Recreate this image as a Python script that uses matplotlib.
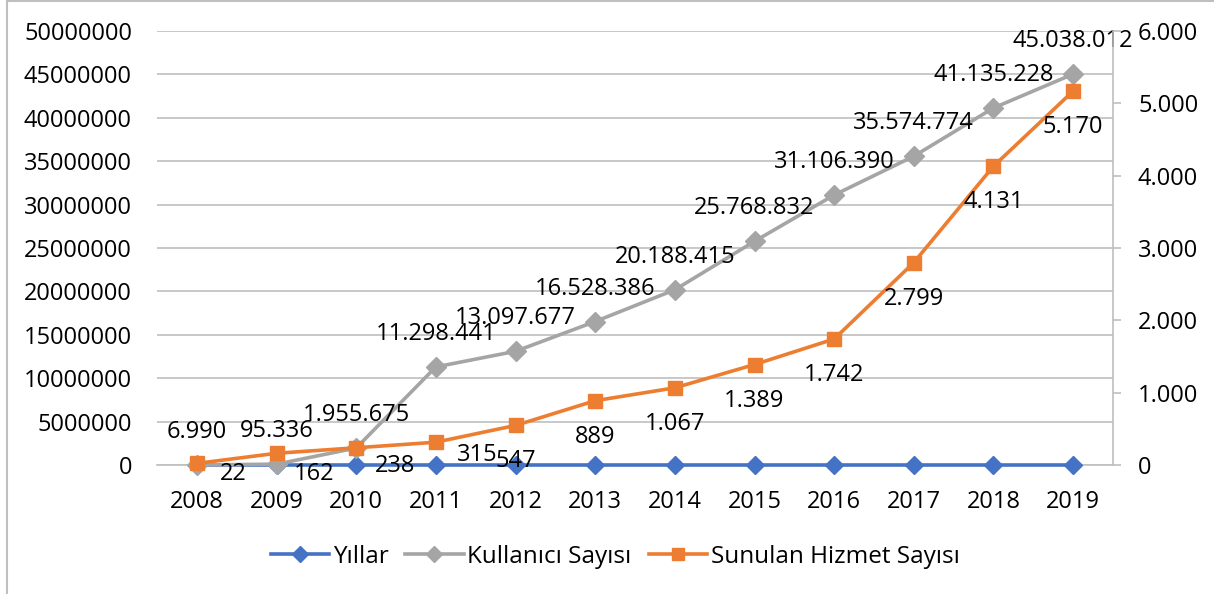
import matplotlib.pyplot as plt
import matplotlib.lines as mlines
import matplotlib.ticker as mticker

plt.rcParams['font.family'] = ['Open Sans', 'DejaVu Sans']
plt.rcParams['font.size'] = 17

years = [2008, 2009, 2010, 2011, 2012, 2013, 2014, 2015, 2016, 2017, 2018, 2019]
users = [6990, 95336, 1955675, 11298441, 13097677, 16528386, 20188415,
         25768832, 31106390, 35574774, 41135228, 45038012]
services = [22, 162, 238, 315, 547, 889, 1067, 1389, 1742, 2799, 4131, 5170]

BLUE = '#4472C4'
GREY = '#A5A5A5'
ORANGE = '#ED7D31'
AXC = '#BFBFBF'


def tr_num(v):
    # turkish thousands separator
    return f'{v:,}'.replace(',', '.')


fig = plt.figure(figsize=(12.14, 5.94), dpi=100)
ax = fig.add_axes([157 / 1214, 1 - 465 / 594, (1113 - 157) / 1214, (465 - 31) / 594])
ax2 = ax.twinx()

x = list(range(len(years)))

l1, = ax.plot(x, years, color=BLUE, lw=2.6, marker='D', ms=9, label='Yıllar', zorder=3, clip_on=False)
l2, = ax.plot(x, users, color=GREY, lw=2.6, marker='D', ms=10, label='Kullanıcı Sayısı', zorder=3,
              clip_on=False)
l3, = ax2.plot(x, services, color=ORANGE, lw=2.6, marker='s', ms=10, label='Sunulan Hizmet Sayısı',
               zorder=3, clip_on=False)

ax.set_xlim(-0.5, len(years) - 0.5)
ax.set_ylim(0, 50000000)
ax2.set_ylim(0, 6000)
ax.yaxis.set_major_locator(mticker.MultipleLocator(5000000))
ax2.yaxis.set_major_locator(mticker.MultipleLocator(1000))
ax.yaxis.set_major_formatter(mticker.FuncFormatter(lambda v, p: f'{int(v)}'))
ax2.yaxis.set_major_formatter(mticker.FuncFormatter(lambda v, p: tr_num(int(v))))

ax.set_xticks(x)
ax.set_xticklabels([str(y) for y in years])
ax.tick_params(axis='x', length=0, pad=18)
ax.tick_params(axis='y', length=0, pad=18)
ax2.tick_params(axis='y', length=6, color=AXC, width=1.2, pad=12)

ax.grid(axis='y', color=AXC, lw=1.2)
ax.grid(axis='x', visible=False)
ax.set_axisbelow(True)
for s in ['top', 'left', 'right']:
    ax.spines[s].set_visible(False)
    ax2.spines[s].set_visible(False)
ax.spines['bottom'].set_color(AXC)
ax.spines['bottom'].set_linewidth(1.2)
ax.spines['bottom'].set_zorder(1)
ax2.spines['bottom'].set_visible(False)
ax2.spines['right'].set_visible(True)
ax2.spines['right'].set_color(AXC)
ax2.spines['right'].set_linewidth(1.2)

# data labels
for xi, v in zip(x, users):
    ax.annotate(tr_num(v), (xi, v), xytext=(0, 33), textcoords='offset pixels',
                ha='center', va='center', zorder=5)

svc_off = [(36, -11), (38, -21), (39, -18), (41, -13)] + [(0, -36)] * 8
for xi, v, off in zip(x, services, svc_off):
    ax2.annotate(tr_num(v), (xi, v), xytext=off, textcoords='offset pixels',
                 ha='center', va='center', zorder=5)

fig.legend(handles=[l1, l2, l3], loc='center', bbox_to_anchor=(615 / 1214, 1 - 557 / 594),
           ncol=3, frameon=False, handlelength=2.4, columnspacing=0.7, handletextpad=0.15,
           fontsize=17.5, markerscale=0.85)

# chart frame
fig.add_artist(mlines.Line2D([7 / 1214, 7 / 1214], [0, 1 - 1 / 594], color=AXC, lw=1.5,
                             transform=fig.transFigure))
fig.add_artist(mlines.Line2D([7 / 1214, 1], [1 - 1 / 594, 1 - 1 / 594], color=AXC, lw=1.5,
                             transform=fig.transFigure))

fig.savefig('out.png', dpi=100)
